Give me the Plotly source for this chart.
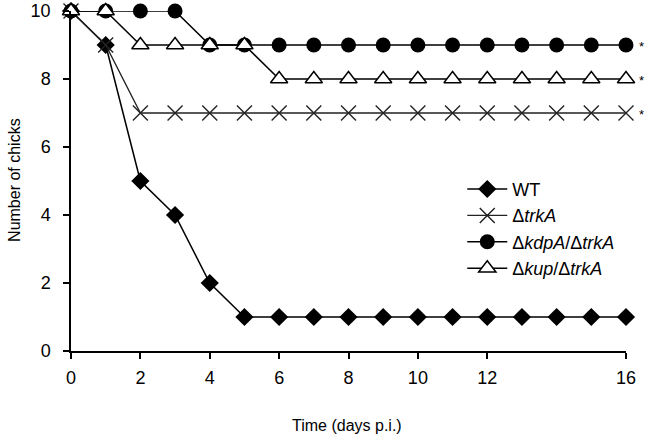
import plotly.graph_objects as go

days = list(range(0, 17))
wt = [10, 9, 5, 4, 2, 1, 1, 1, 1, 1, 1, 1, 1, 1, 1, 1, 1]
trkA = [10, 9, 7, 7, 7, 7, 7, 7, 7, 7, 7, 7, 7, 7, 7, 7, 7]
kdpA_trkA = [10, 10, 10, 10, 9, 9, 9, 9, 9, 9, 9, 9, 9, 9, 9, 9, 9]
kup_trkA = [10, 10, 9, 9, 9, 9, 8, 8, 8, 8, 8, 8, 8, 8, 8, 8, 8]
names = ["WT", "Δ<i>trkA</i>", "Δ<i>kdpA</i>/Δ<i>trkA</i>", "Δ<i>kup</i>/Δ<i>trkA</i>"]
sig_levels = [9, 8, 7]
x_ticks = [0, 2, 4, 6, 8, 10, 12, 16]
y_ticks = [0, 2, 4, 6, 8, 10]

fig = go.Figure()
fig.add_trace(go.Scatter(x=days, y=wt, name=names[0], mode="lines+markers",
                         line=dict(color="black", width=1.5),
                         marker=dict(symbol="diamond", size=14, color="black"),
                         cliponaxis=False))
fig.add_trace(go.Scatter(x=days, y=trkA, name=names[1], mode="lines+markers",
                         line=dict(color="#222", width=1.3),
                         marker=dict(symbol="x-thin-open", size=15,
                                     line=dict(color="#333", width=1.4)),
                         cliponaxis=False))
fig.add_trace(go.Scatter(x=days, y=kdpA_trkA, name=names[2], mode="lines+markers",
                         line=dict(color="black", width=1.5),
                         marker=dict(symbol="circle", size=15, color="black"),
                         cliponaxis=False))
fig.add_trace(go.Scatter(x=days, y=kup_trkA, name=names[3], mode="lines+markers",
                         line=dict(color="black", width=1.5),
                         marker=dict(symbol="triangle-up", size=15, color="white",
                                     line=dict(color="black", width=1.5)),
                         cliponaxis=False))

for v in sig_levels:
    fig.add_annotation(x=1.0, y=v, xref="paper", yref="y", text="*", showarrow=False,
                       xanchor="center", yanchor="middle",
                       xshift=15, yshift=-1, font=dict(size=13, color="black"))

fig.add_annotation(x=0.497, y=-0.218, xref="paper", yref="paper",
                   text="Time (days p.i.)", showarrow=False,
                   font=dict(size=16), xanchor="center", yanchor="middle")
fig.add_annotation(x=-0.101, y=0.503, xref="paper", yref="paper",
                   text="Number of chicks", showarrow=False, textangle=-90,
                   font=dict(size=16), xanchor="center", yanchor="middle")

font_family = "Liberation Sans, Arial, sans-serif"
fig.update_layout(
    width=648, height=439,
    margin=dict(l=71, r=22, t=11, b=88, autoexpand=False),
    plot_bgcolor="white", paper_bgcolor="white",
    font=dict(family=font_family, size=16, color="black"),
    showlegend=True,
    legend=dict(x=0.705, y=0.53, xanchor="left", yanchor="top",
                font=dict(size=18), bgcolor="rgba(0,0,0,0)",
                tracegroupgap=0, itemwidth=40),
    xaxis=dict(range=[0, 16], tickvals=x_ticks, automargin=False,
               showline=True, linecolor="black", linewidth=1.5,
               ticks="outside", ticklen=6, tickwidth=1.5, tickcolor="black",
               showgrid=False, zeroline=False, tickfont=dict(size=18),
               ticklabelstandoff=4),
    yaxis=dict(range=[0, 10], tickvals=y_ticks, automargin=False,
               showline=True, linecolor="black", linewidth=1.5,
               ticks="outside", ticklen=6, tickwidth=1.5, tickcolor="black",
               showgrid=False, zeroline=False, tickfont=dict(size=18),
               ticklabelstandoff=9),
)

fig.write_html("out.html", config={"displayModeBar": False},
               post_script="document.body.style.margin='0px';document.body.style.padding='0px';")
